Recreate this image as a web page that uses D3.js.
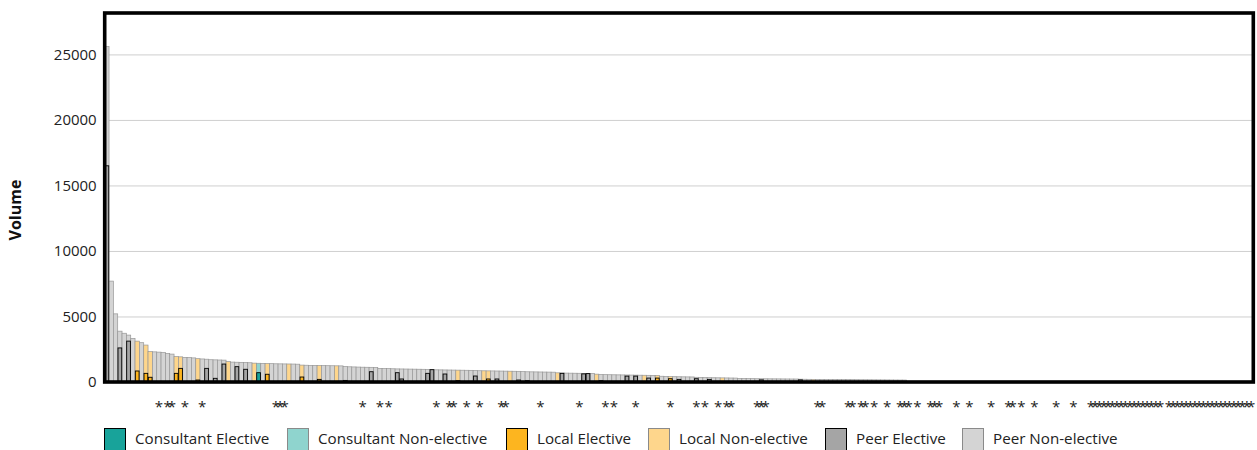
<!DOCTYPE html>
<html>
<head>
<meta charset="utf-8">
<script src="https://cdn.jsdelivr.net/npm/d3@7"></script>
<style>
  html, body { margin: 0; padding: 0; background: #fff; }
  svg { display: block; font-family: "Open Sans", "Noto Sans", sans-serif; }
</style>
</head>
<body>
<svg id="chart" width="1257" height="450"></svg>
<script>
(function () {
// ---------------- DATA ----------------
const categoryCount = 265;
const categories = d3.range(categoryCount).map(i => "P" + (i + 1));

// height of the non-elective (light) bar for each provider, in sorted order
const nonElective = [
  25600, 7700, 5200, 3880, 3720, 3580, 3330, 3120, 3000, 2820,
  2320, 2300, 2280, 2250, 2180, 2130, 1940, 1920, 1880, 1860,
  1840, 1780, 1760, 1740, 1700, 1690, 1680, 1670, 1560, 1520,
  1510, 1500, 1490, 1470, 1440, 1430, 1420, 1410, 1400, 1390,
  1385, 1380, 1375, 1370, 1360, 1290, 1280, 1270, 1265, 1260,
  1250, 1245, 1240, 1235, 1230, 1180, 1160, 1150, 1140, 1130,
  1125, 1120, 1110, 1040, 1030, 1020, 1010, 1000, 995, 990,
  985, 980, 975, 970, 965, 960, 930, 925, 920, 915,
  910, 905, 900, 895, 890, 880, 860, 855, 850, 845,
  840, 835, 830, 825, 820, 815, 790, 780, 775, 770,
  765, 760, 755, 750, 700, 690, 680, 675, 670, 665,
  660, 655, 650, 600, 570, 560, 555, 550, 545, 540,
  535, 530, 525, 520, 515, 510, 505, 500, 440, 420,
  410, 405, 400, 395, 390, 385, 360, 340, 335, 330,
  325, 320, 315, 310, 305, 300, 270, 265, 260, 255,
  250, 248, 245, 242, 240, 238, 235, 232, 230, 228,
  215, 210, 205, 200, 198, 195, 192, 190, 188, 185,
  182, 180, 178, 175, 172, 170, 168, 165, 162, 160,
  158, 155, 152, 150, 148
];

// elective volumes: [provider index, value]
const elective = [
  [0, 16500], [3, 2600], [5, 3120], [7, 840], [9, 660], [10, 360], [16, 660], [17, 1040],
  [21, 150], [23, 1040], [25, 280], [27, 1370], [30, 1170], [32, 970], [35, 710], [37, 590],
  [45, 380], [49, 200], [55, 120], [61, 785], [67, 710], [68, 230], [74, 660], [75, 940],
  [78, 610], [81, 100], [85, 457], [88, 230], [90, 230], [95, 150], [97, 100], [105, 660],
  [110, 620], [111, 640], [114, 100], [120, 450], [122, 450], [125, 300], [127, 300],
  [130, 250], [132, 200], [136, 250], [139, 200], [151, 160], [160, 160]
];

// provider type: indices that are Local or Consultant, all others are Peer
const localProviders = [7, 9, 10, 16, 17, 21, 28, 34, 37, 42, 45, 49, 53, 81, 87, 88, 93,
  104, 113, 124, 127, 130, 142, 163];
const consultantProviders = [35];

// providers flagged with an asterisk under the axis
const flagged = [12, 14, 15, 18, 22, 39, 40, 41, 59, 63, 65, 76, 79, 80, 83, 86, 91, 92,
  100, 109, 115, 117, 122, 130, 136, 138, 141, 143, 144, 150, 151, 152, 164, 165, 171, 172,
  174, 175, 177, 180, 183, 184, 185, 187, 190, 191, 192, 196, 199, 204, 208, 209, 211, 214,
  219, 223, 227, 228, 229, 230, 231, 232, 233, 234, 235, 236, 237, 238, 239, 240, 241, 242,
  243, 245, 246, 247, 248, 249, 250, 251, 252, 253, 254, 255, 256, 257, 258, 259, 260, 261,
  262, 263, 264];

const yTicks = [0, 5000, 10000, 15000, 20000, 25000];
const yMax = 28160;

const legendItems = [
  { key: "Consultant Elective",     type: "C", kind: "E" },
  { key: "Consultant Non-elective", type: "C", kind: "N" },
  { key: "Local Elective",          type: "L", kind: "E" },
  { key: "Local Non-elective",      type: "L", kind: "N" },
  { key: "Peer Elective",           type: "P", kind: "E" },
  { key: "Peer Non-elective",       type: "P", kind: "N" }
];

// ---------------- STYLE ----------------
const colors = {
  C: { E: "#18a39a", N: "#8fd4ce" },
  L: { E: "#fdb51f", N: "#fed68c" },
  P: { E: "#a5a5a5", N: "#d4d4d4" }
};
const stroke = { E: "#000", N: "#979797" };

// ---------------- CHART ----------------
const svg = d3.select("#chart");
const pLeft = 104.7, pRight = 1253.3, pTop = 13, pBottom = 382;

const x = d3.scaleBand().domain(categories).range([pLeft, pRight]).padding(0);
const y = d3.scaleLinear().domain([0, yMax]).range([pBottom, pTop]);

const typeOf = i => consultantProviders.includes(i) ? "C" : (localProviders.includes(i) ? "L" : "P");

// grid
svg.append("g").selectAll("line").data(yTicks.filter(d => d > 0)).join("line")
  .attr("x1", pLeft).attr("x2", pRight)
  .attr("y1", d => y(d) + 0.5).attr("y2", d => y(d) + 0.5)
  .attr("stroke", "#cfcfcf").attr("stroke-width", 1);

// non-elective bars
const neData = nonElective.map((v, i) => ({ i, v })).filter(d => d.v > 0);
svg.append("g").selectAll("rect").data(neData).join("rect")
  .attr("x", d => x(categories[d.i]))
  .attr("width", x.bandwidth())
  .attr("y", d => y(d.v))
  .attr("height", d => pBottom - y(d.v))
  .attr("fill", d => colors[typeOf(d.i)].N)
  .attr("stroke", stroke.N).attr("stroke-width", 0.7);

// elective bars
svg.append("g").selectAll("rect").data(elective).join("rect")
  .attr("x", d => x(categories[d[0]]) + 0.3)
  .attr("width", x.bandwidth() - 0.6)
  .attr("y", d => y(d[1]))
  .attr("height", d => pBottom - y(d[1]))
  .attr("fill", d => colors[typeOf(d[0])].E)
  .attr("stroke", stroke.E).attr("stroke-width", 0.9);

// y axis
const yAxis = d3.axisLeft(y).tickValues(yTicks).tickSize(0).tickPadding(8).tickFormat(d3.format("d"));
const ag = svg.append("g").attr("transform", `translate(${pLeft},0)`).call(yAxis);
ag.select(".domain").remove();
ag.selectAll("text").attr("font-size", 15).attr("fill", "#222")
  .attr("font-family", "'Open Sans', sans-serif");

// frame
svg.append("rect")
  .attr("x", pLeft).attr("y", pTop)
  .attr("width", pRight - pLeft).attr("height", pBottom - pTop)
  .attr("fill", "none").attr("stroke", "#000").attr("stroke-width", 3.6);

// asterisks
svg.append("g").selectAll("text").data(flagged).join("text")
  .attr("x", i => x(categories[i]) + x.bandwidth() / 2)
  .attr("y", 412)
  .attr("text-anchor", "middle")
  .attr("font-size", 15).attr("fill", "#222")
  .text("*");

// y label
svg.append("text")
  .attr("transform", "translate(21,210) rotate(-90)")
  .attr("text-anchor", "middle")
  .attr("font-size", 16).attr("font-weight", "bold").attr("fill", "#111")
  .text("Volume");

// legend
const legendX = [104, 287, 506, 648, 825, 962];
const lg = svg.append("g").selectAll("g").data(legendItems).join("g")
  .attr("transform", (d, k) => `translate(${legendX[k]},428)`);
lg.append("rect")
  .attr("x", 0.5).attr("y", 0.5).attr("width", 21).attr("height", 24)
  .attr("fill", d => colors[d.type][d.kind])
  .attr("stroke", d => d.kind === "E" ? "#000" : "#8a8a8a").attr("stroke-width", 1);
lg.append("text")
  .attr("x", 31).attr("y", 16)
  .attr("font-size", 15.2).attr("fill", "#222")
  .text(d => d.key);
})();
</script>
</body>
</html>
